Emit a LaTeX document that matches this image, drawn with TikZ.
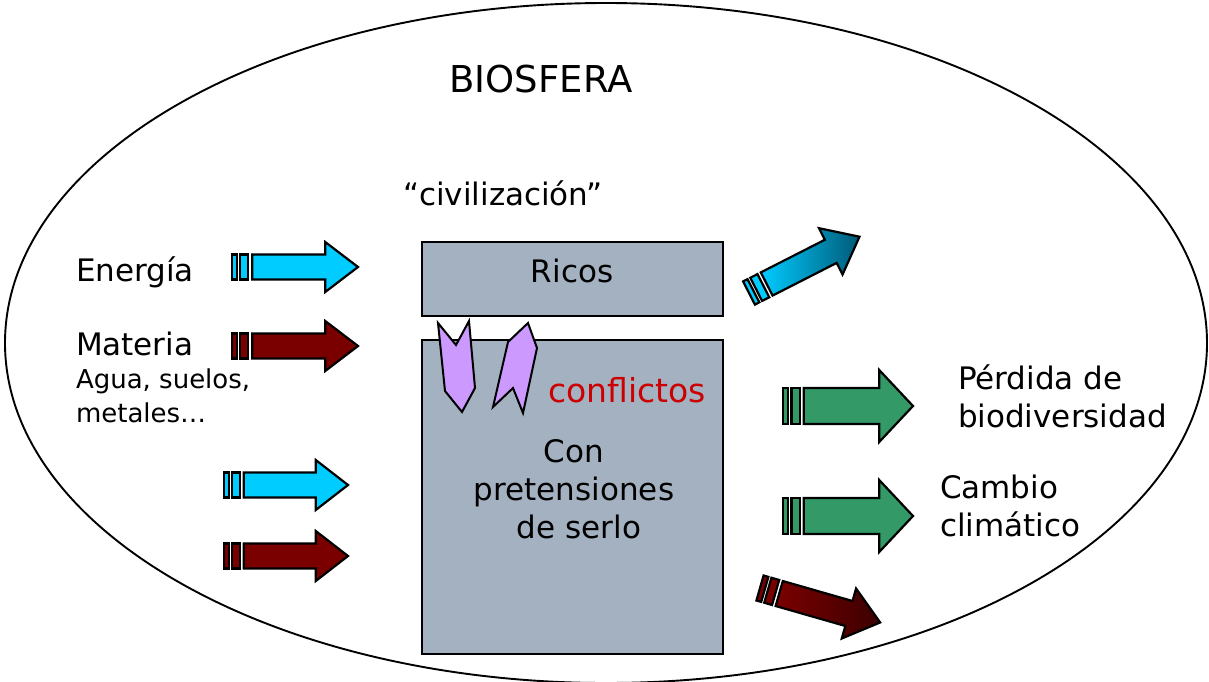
\documentclass[tikz,border=0pt]{standalone}
\usepackage{fontspec}
\setmainfont{DejaVu Sans}
\definecolor{skyarrow}{RGB}{0,204,255}
\definecolor{tealarrow}{RGB}{0,90,120}
\definecolor{winearrow}{RGB}{122,0,0}
\definecolor{darkwine}{RGB}{60,0,0}
\definecolor{greenarrow}{RGB}{51,153,102}
\definecolor{boxgray}{RGB}{163,177,192}
\definecolor{clawlilac}{RGB}{204,153,255}
\definecolor{conflictred}{RGB}{204,0,0}

\begin{document}
\begin{tikzpicture}[x=1pt,y=-1pt,line width=2pt,line join=miter]
  \def\blockarrow#1#2#3#4#5#6{%
    \begin{scope}[shift={#1},rotate=#2,line width=2.2pt]
      \filldraw[fill=#5] (0,-#4) rectangle (0.04*#3,#4);
      \filldraw[fill=#5] (0.065*#3,-#4) rectangle (0.13*#3,#4);
      \path[draw=black,#6] (0.16*#3,-#4) -- (0.74*#3,-#4) -- (0.74*#3,-2*#4)
        -- (#3,0) -- (0.74*#3,2*#4) -- (0.74*#3,#4) -- (0.16*#3,#4) -- cycle;
    \end{scope}}

\tikzstyle{box}=[draw,fill=boxgray,line width=2pt,inner sep=0pt]
\tikzstyle{txt}=[inner sep=0pt,font=\fontsize{31}{37.5}\selectfont]
\tikzstyle{small}=[inner sep=0pt,font=\fontsize{26}{34}\selectfont]
\tikzstyle{claw}=[draw,fill=clawlilac,line width=2pt]

\useasboundingbox (0,0) rectangle (1209,682);
\draw[line width=1.9pt] (606,343) ellipse [x radius=601, y radius=340];

\node[box,minimum width=301,minimum height=74,anchor=north west] (ricos) at (421,241) {};
\node[box,minimum width=301,minimum height=314,anchor=north west] (resto) at (421,339) {};

\filldraw[claw] (438,323) -- (456,345) -- (469,321) -- (475,388) -- (462,412) -- (445,391) -- cycle;
\filldraw[claw] (508,342) -- (528,323) -- (537,348) -- (523,413) -- (513,388) -- (493,407) -- cycle;

\node[inner sep=0pt,font=\fontsize{37}{40}\selectfont,anchor=base] (bio) at (541,93) {BIOSFERA};
\node[txt,anchor=base] (civ) at (503,205) {“civilización”};
\node[txt,anchor=base] (ricoslbl) at (572,282) {Ricos};
\node[txt,anchor=base,text=conflictred,font=\fontsize{33}{38}\selectfont] (conf) at (627,402) {conflictos};
\node[txt,anchor=base,align=center,font=\fontsize{31}{38}\selectfont] (con) at (574,538) {Con\\pretensiones\\\ de serlo};

\node[txt,anchor=base west] (energia) at (75,281) {Energía};
\node[txt,anchor=base west] (materia) at (75,355) {Materia};
\node[small,anchor=base west,align=left] (agua) at (75,422) {Agua, suelos,\\metales…};

\node[txt,anchor=base west,align=left] (perdida) at (957,427) {Pérdida de\\biodiversidad};
\node[txt,anchor=base west,align=left] (cambio) at (939,536) {Cambio\\climático};

\blockarrow{(232,267)}{0}{126}{12.5}{skyarrow}{fill=skyarrow}
\blockarrow{(232,346)}{0}{126}{12.5}{winearrow}{fill=winearrow}
\blockarrow{(224,485)}{0}{124}{12.5}{skyarrow}{fill=skyarrow}
\blockarrow{(224,556)}{0}{124}{12.5}{winearrow}{fill=winearrow}
\blockarrow{(783,406)}{0}{130}{18}{greenarrow}{fill=greenarrow}
\blockarrow{(783,516)}{0}{130}{18}{greenarrow}{fill=greenarrow}
\blockarrow{(749,293)}{27}{124}{13}{skyarrow}{left color=skyarrow,right color=tealarrow}
\blockarrow{(760,588)}{-16}{125}{13}{winearrow}{left color=winearrow,right color=darkwine}
\end{tikzpicture}
\end{document}
